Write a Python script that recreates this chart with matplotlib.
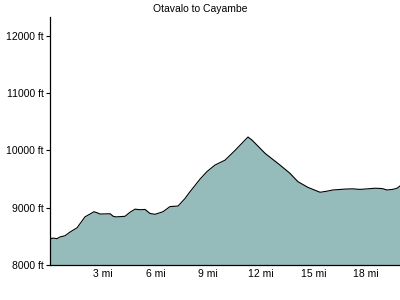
import matplotlib
matplotlib.use('Agg')
import matplotlib.pyplot as plt

# distance (mi) and elevation (ft)
miles = [0, 0.1, 0.17, 0.4, 0.57, 0.85, 1.14, 1.54, 1.99, 2.28, 2.5, 2.7, 2.85,
         3.42, 3.6, 3.76, 4.27, 4.55, 4.84, 5.12, 5.41, 5.69, 5.98, 6.43,
         6.83, 7.29, 7.68, 7.97, 8.54, 8.93, 9.39, 9.96, 10.53, 11.0, 11.27,
         11.5, 12.24, 13.09, 13.66, 14.11, 14.68, 15.37, 15.7, 16.1, 16.79,
         17.2, 17.64, 18.1, 18.49, 18.9, 19.18, 19.5, 19.75, 19.92]
elev = [8480, 8460, 8470, 8460, 8490, 8510, 8575, 8650, 8840, 8890, 8930, 8910, 8890,
        8895, 8850, 8840, 8850, 8920, 8975, 8965, 8970, 8900, 8885, 8930,
        9020, 9030, 9160, 9280, 9500, 9630, 9745, 9830, 10000, 10150, 10235,
        10180, 9950, 9745, 9600, 9455, 9355, 9270, 9285, 9310, 9325,
        9330, 9320, 9330, 9340, 9335, 9310, 9320, 9340, 9380]

xticks = [3, 6, 9, 12, 15, 18]
yticks = [8000, 9000, 10000, 11000, 12000]

plt.rcParams['font.family'] = 'Liberation Sans'
fig = plt.figure(figsize=(4, 3), dpi=100)
ax = fig.add_axes([0.125, 0.1167, 0.875, 0.8266])

ax.fill_between(miles, elev, 8000, color='#96bbbb', lw=0)
ax.plot(miles, elev, color='black', lw=0.8)

ax.set_xlim(0, 19.92)
ax.set_ylim(8000, 12330)
ax.set_xticks(xticks)
ax.set_xticklabels([f'{t} mi' for t in xticks])
ax.set_yticks(yticks)
ax.set_yticklabels([f'{t} ft' for t in yticks])
ax.tick_params(axis='x', length=0, pad=3, labelsize=7.5)
ax.tick_params(axis='y', length=3, width=0.8, pad=1.5, labelsize=7.5)
for s in ['top', 'right']:
    ax.spines[s].set_visible(False)
for s in ['left', 'bottom']:
    ax.spines[s].set_linewidth(0.9)

fig.text(0.5, 0.97, 'Otavalo to Cayambe', ha='center', va='center', fontsize=7.5)

fig.savefig('out.png', dpi=100)
